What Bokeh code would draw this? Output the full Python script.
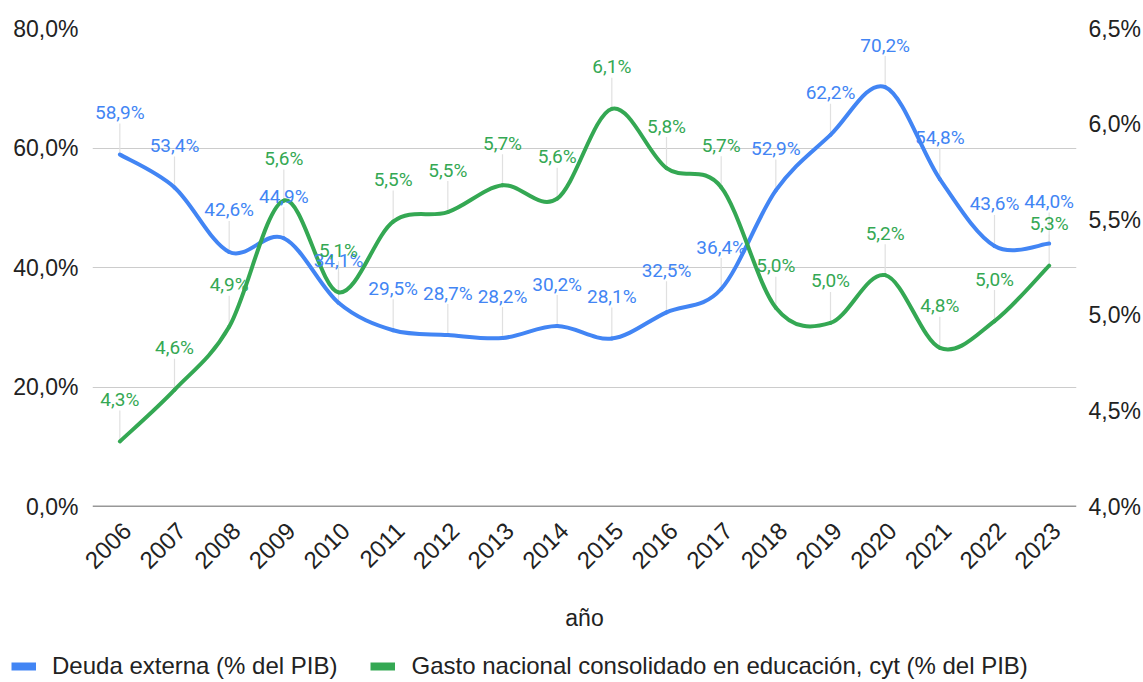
import math
from bokeh.plotting import figure
from bokeh.layouts import column
from bokeh.models import Range1d, LinearAxis, FixedTicker, Legend, LegendItem, ColumnDataSource, Span
from bokeh.core.properties import value
from bokeh.embed import file_html
from bokeh.resources import INLINE

years = [str(y) for y in range(2006, 2024)]
deuda = [58.9, 53.4, 42.6, 44.9, 34.1, 29.5, 28.7, 28.2, 30.2, 28.1,
         32.5, 36.4, 52.9, 62.2, 70.2, 54.8, 43.6, 44.0]
gasto = [4.34, 4.61, 4.94, 5.60, 5.12, 5.49, 5.54, 5.68, 5.61, 6.08,
         5.77, 5.67, 5.04, 4.96, 5.21, 4.83, 4.97, 5.26]
left_ticks = [0, 20, 40, 60, 80]
right_ticks = [4.0, 4.5, 5.0, 5.5, 6.0, 6.5]
series_names = ["Deuda externa (% del PIB)",
                "Gasto nacional consolidado en educación, cyt (% del PIB)"]

BLUE = "#4285f4"
GREEN = "#34a853"
AXFONT = "Liberation Sans"
LBLFONT = "Roboto"


def fmt(v):
    return ("%.1f%%" % v).replace(".", ",")


xs = list(range(len(years)))


def bezier_cols(x, y):
    n = len(x)
    d = dict(x0=[], y0=[], x1=[], y1=[], cx0=[], cy0=[], cx1=[], cy1=[])
    for i in range(n - 1):
        im = max(i - 1, 0)
        ip = min(i + 2, n - 1)
        d["x0"].append(x[i]); d["y0"].append(y[i])
        d["x1"].append(x[i + 1]); d["y1"].append(y[i + 1])
        d["cx0"].append(x[i] + (x[i + 1] - x[im]) / 6.0)
        d["cy0"].append(y[i] + (y[i + 1] - y[im]) / 6.0)
        d["cx1"].append(x[i + 1] - (x[ip] - x[i]) / 6.0)
        d["cy1"].append(y[i + 1] - (y[ip] - y[i]) / 6.0)
    return ColumnDataSource(d)


W = 1143
p = figure(width=W, height=640, output_backend="svg", toolbar_location=None,
           x_range=Range1d(-0.5, len(years) - 0.5), y_range=Range1d(0, 80),
           min_border_left=92, min_border_right=67, min_border_top=28,
           min_border_bottom=134)
p.frame_align = False
p.extra_y_ranges = {"g": Range1d(4.0, 6.5)}
shift = 7.0 / 54.6
p.extra_x_ranges = {"lab": Range1d(-0.5 - shift, len(years) - 0.5 - shift)}
p.outline_line_color = None
p.background_fill_color = "white"
p.border_fill_color = "white"

# axes
p.xaxis.x_range_name = "lab"
p.xaxis.ticker = FixedTicker(ticks=xs)
p.xaxis.major_label_overrides = {i: y for i, y in enumerate(years)}
p.xaxis.major_label_orientation = math.pi / 4
p.xaxis.axis_label = "año"
p.xaxis.axis_label_text_font_style = "normal"
p.xaxis.axis_label_text_font = AXFONT
p.xaxis.axis_label_text_font_size = "23px"
p.xaxis.axis_label_text_color = "#222222"
p.xaxis.axis_label_standoff = 26

p.yaxis.ticker = FixedTicker(ticks=left_ticks)
p.yaxis.major_label_overrides = {t: fmt(t) for t in left_ticks}

ra = LinearAxis(y_range_name="g", ticker=FixedTicker(ticks=right_ticks),
                major_label_overrides={t: fmt(t) for t in right_ticks})
p.add_layout(ra, "right")

for ax in p.xaxis + p.yaxis + [ra]:
    ax.axis_line_color = None
    ax.major_tick_line_color = None
    ax.minor_tick_line_color = None
    ax.major_tick_out = 0
    ax.major_tick_in = 0
    ax.major_label_text_font = AXFONT
    ax.major_label_text_font_size = "23px"
    ax.major_label_text_color = "#222222"
p.xaxis.major_label_text_font_size = "24px"
p.xaxis.major_label_standoff = 20
p.yaxis.major_label_standoff = 14
ra.major_label_standoff = 12

p.xgrid.visible = False
p.ygrid.ticker = FixedTicker(ticks=left_ticks)
p.ygrid.grid_line_color = "#cccccc"
p.ygrid.grid_line_width = 1.2
p.add_layout(Span(location=0, dimension="width", line_color="#333333", line_width=1.6))

# leader lines
p.ray(x=xs, y=deuda, length=31, length_units="screen", angle=math.pi / 2,
      line_color="#e0e0e0", line_width=1.2)
p.ray(x=xs, y=gasto, length=31, length_units="screen", angle=math.pi / 2,
      line_color="#e0e0e0", line_width=1.2, y_range_name="g")

# smooth lines
p.bezier(x0="x0", y0="y0", x1="x1", y1="y1", cx0="cx0", cy0="cy0", cx1="cx1", cy1="cy1",
         source=bezier_cols(xs, deuda), line_color=BLUE, line_width=4, line_cap="round")
p.bezier(x0="x0", y0="y0", x1="x1", y1="y1", cx0="cx0", cy0="cy0", cx1="cx1", cy1="cy1",
         source=bezier_cols(xs, gasto), line_color=GREEN, line_width=4, line_cap="round",
         y_range_name="g")

# data labels
p.text(x=xs, y=deuda, text=[fmt(v) for v in deuda], y_offset=-42,
       text_align="center", text_baseline="middle", text_color=BLUE,
       text_font=value(LBLFONT), text_font_size="19px")
p.text(x=xs, y=gasto, text=[fmt(round(v, 1)) for v in gasto], y_offset=-42,
       text_align="center", text_baseline="middle", text_color=GREEN,
       text_font=value(LBLFONT), text_font_size="19px", y_range_name="g")

# legend in its own strip below
q = figure(width=W, height=42, output_backend="svg", toolbar_location=None,
           x_range=Range1d(0, 1), y_range=Range1d(0, 1),
           x_axis_location=None, y_axis_location=None,
           min_border_left=0, min_border_right=0, min_border_top=0, min_border_bottom=0)
q.frame_align = False
q.grid.visible = False
q.outline_line_color = None
r1 = q.line(x=[-5, -4], y=[-5, -5], line_color=BLUE, line_width=8, line_cap="butt")
r2 = q.line(x=[-5, -4], y=[-5, -5], line_color=GREEN, line_width=8, line_cap="butt")
legend = Legend(items=[LegendItem(label=series_names[0], renderers=[r1]),
                       LegendItem(label=series_names[1], renderers=[r2])],
                location=(11, 2), orientation="horizontal",
                glyph_width=25, glyph_height=24, label_height=24,
                label_standoff=16, spacing=33, padding=0, margin=0,
                border_line_color=None, background_fill_alpha=0,
                label_text_font=AXFONT, label_text_font_size="24px",
                label_text_color="#222222")
q.add_layout(legend)

open("out.html", "w").write(file_html(column(p, q, spacing=0), INLINE))
